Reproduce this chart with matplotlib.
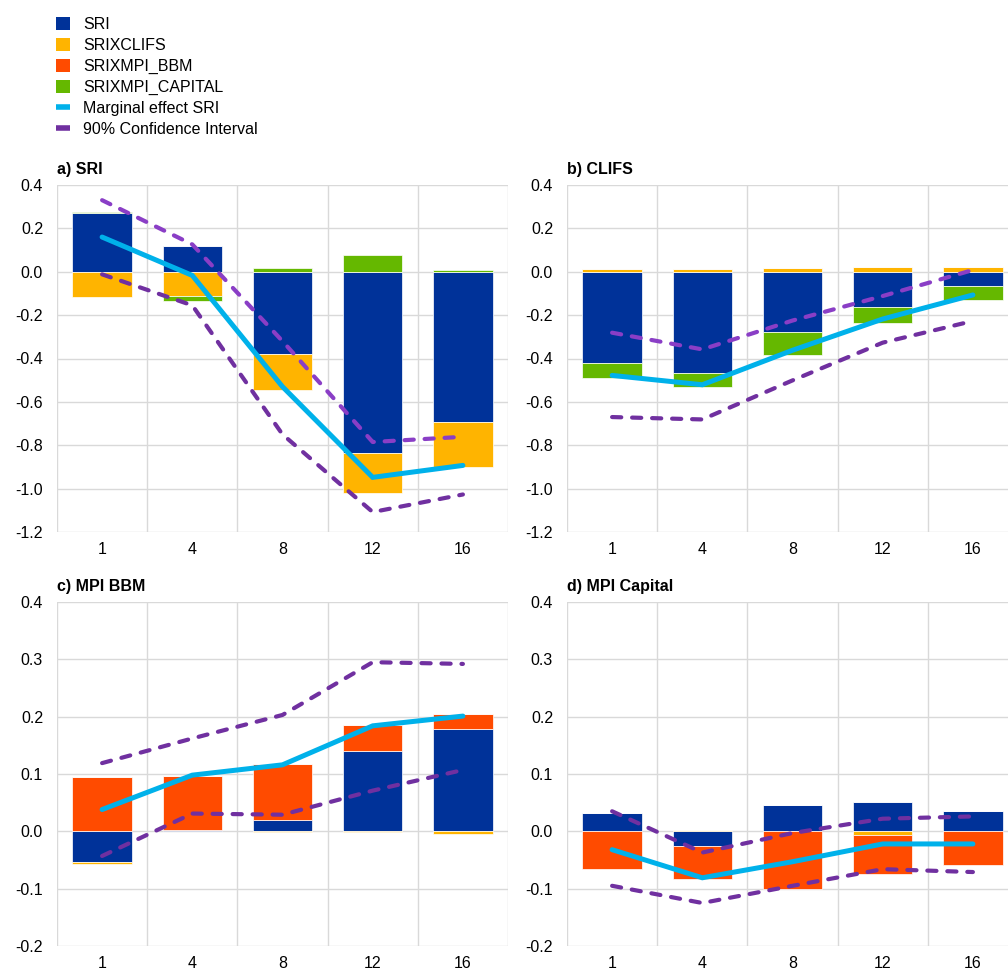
import matplotlib
matplotlib.use("Agg")
import matplotlib.pyplot as plt
import numpy as np
from matplotlib.patches import Patch
from matplotlib.lines import Line2D
from matplotlib.ticker import FixedLocator, FuncFormatter

plt.rcParams["font.family"] = ["Liberation Sans", "DejaVu Sans"]

horizons = ["1", "4", "8", "12", "16"]
series_names = ["SRI", "SRIXCLIFS", "SRIXMPI_BBM", "SRIXMPI_CAPITAL"]

# a) SRI
a_sri = [0.272, 0.118, -0.381, -0.836, -0.693]
a_clifs = [-0.115, -0.112, -0.162, -0.183, -0.206]
a_bbm = [0.0, 0.0, 0.0, 0.0, 0.0]
a_capital = [0.004, -0.023, 0.017, 0.077, 0.008]
a_marginal = [0.160, -0.017, -0.530, -0.948, -0.893]
a_upper = [0.330, 0.126, -0.320, -0.785, -0.761]
a_lower = [-0.012, -0.155, -0.750, -1.108, -1.027]

# b) CLIFS
b_sri = [-0.420, -0.467, -0.277, -0.161, -0.065]
b_clifs = [0.014, 0.012, 0.018, 0.020, 0.023]
b_bbm = [0.0, 0.0, 0.0, 0.0, 0.0]
b_capital = [-0.070, -0.065, -0.109, -0.074, -0.064]
b_marginal = [-0.478, -0.521, -0.362, -0.218, -0.107]
b_upper = [-0.281, -0.358, -0.225, -0.112, 0.008]
b_lower = [-0.670, -0.681, -0.501, -0.327, -0.227]

# c) MPI BBM
c_sri = [-0.053, 0.002, 0.019, 0.140, 0.179]
c_clifs = [-0.004, 0.0, -0.002, -0.002, -0.004]
c_bbm = [0.094, 0.095, 0.099, 0.046, 0.025]
c_capital = [0.0, 0.0, 0.0, 0.0, 0.0]
c_marginal = [0.038, 0.098, 0.116, 0.184, 0.201]
c_upper = [0.119, 0.162, 0.203, 0.295, 0.292]
c_lower = [-0.043, 0.031, 0.029, 0.071, 0.107]

# d) MPI Capital
d_sri = [0.032, -0.025, 0.046, 0.051, 0.036]
d_clifs = [0.0, 0.002, 0.0, -0.007, 0.0]
d_bbm = [-0.065, -0.059, -0.101, -0.067, -0.059]
d_capital = [0.0, 0.0, 0.0, 0.0, 0.0]
d_marginal = [-0.032, -0.081, -0.053, -0.022, -0.022]
d_upper = [0.035, -0.037, -0.003, 0.022, 0.026]
d_lower = [-0.095, -0.125, -0.095, -0.066, -0.071]

titles = ["a) SRI", "b) CLIFS", "c) MPI BBM", "d) MPI Capital"]

bar_colors = ["#003299", "#FFB400", "#FF4B00", "#65B800"]
line_color = "#00B1EA"
ci_color = "#7030A0"
ci_upper_colors = ["#8A3EC6", "#8A3EC6", "#7030A0", "#7030A0"]

FS = 11.5
W, H = 1008, 969
fig = plt.figure(figsize=(W / 100, H / 100), dpi=100)

# axes rectangles in pixels: left, top, right, bottom
rects = [
    (57, 185, 508, 532),
    (567, 185, 1018, 532),
    (57, 602, 508, 946),
    (567, 602, 1018, 946),
]
ylims = [(-1.2, 0.4), (-1.2, 0.4), (-0.2, 0.4), (-0.2, 0.4)]
ysteps = [0.2, 0.2, 0.1, 0.1]

panels = [
    (a_sri, a_clifs, a_bbm, a_capital, a_marginal, a_upper, a_lower),
    (b_sri, b_clifs, b_bbm, b_capital, b_marginal, b_upper, b_lower),
    (c_sri, c_clifs, c_bbm, c_capital, c_marginal, c_upper, c_lower),
    (d_sri, d_clifs, d_bbm, d_capital, d_marginal, d_upper, d_lower),
]

x = np.arange(len(horizons))
grid_color = "#D9D9D9"


def fmt(v, pos):
    if abs(v) < 1e-9:
        return "0.0"
    return f"{v:.1f}"


for i, (data, rect, ylim, ystep, title) in enumerate(zip(panels, rects, ylims, ysteps, titles)):
    l, t, r, b = rect
    ax = fig.add_axes([l / W, (H - b) / H, (r - l) / W, (b - t) / H])
    sri, clifs, bbm, capital, marginal, upper, lower = data

    pos_base = np.zeros(len(x))
    neg_base = np.zeros(len(x))
    for vals, col in zip([sri, clifs, bbm, capital], bar_colors):
        v = np.asarray(vals, dtype=float)
        base = np.where(v >= 0, pos_base, neg_base)
        ax.bar(x, v, 0.66, bottom=base, color=col, edgecolor="white",
               linewidth=0.5, zorder=2)
        pos_base = pos_base + np.where(v > 0, v, 0)
        neg_base = neg_base + np.where(v < 0, v, 0)

    ax.plot(x, lower, color=ci_color, lw=3.0, dashes=(2.2, 2.6),
            dash_capstyle="round", solid_capstyle="round", zorder=3)
    ax.plot(x, upper, color=ci_upper_colors[i], lw=3.0, dashes=(2.2, 2.6),
            dash_capstyle="round", solid_capstyle="round", zorder=3)
    ax.plot(x, marginal, color=line_color, lw=3.6, solid_capstyle="round",
            solid_joinstyle="miter", zorder=4)

    ax.set_xlim(-0.5, len(x) - 0.5)
    ax.set_ylim(*ylim)
    ax.set_xticks(x)
    ax.set_xticklabels(horizons)
    ax.xaxis.set_minor_locator(FixedLocator(np.arange(-0.5, len(x), 1.0)))
    yt = np.round(np.arange(ylim[0], ylim[1] + ystep / 2, ystep), 2)
    ax.set_yticks(yt)
    ax.yaxis.set_major_formatter(FuncFormatter(fmt))
    ax.grid(False)
    ax.grid(True, axis="x", which="minor", color=grid_color, lw=1.0, zorder=0)
    ax.grid(True, axis="y", which="major", color=grid_color, lw=1.0, zorder=0)
    ax.set_axisbelow(True)
    for s in ax.spines.values():
        s.set_visible(False)
    ax.tick_params(axis="both", which="both", length=0, labelsize=FS, colors="#000000")
    ax.tick_params(axis="y", pad=10)
    ax.tick_params(axis="x", pad=7)
    ax.set_title(title, loc="left", fontsize=FS, fontweight="bold", pad=8)

handles = [Patch(facecolor=c, edgecolor="none") for c in bar_colors]
handles.append(Line2D([0], [0], color=line_color, lw=4, solid_capstyle="butt"))
handles.append(Line2D([0], [0], color=ci_color, lw=4, solid_capstyle="butt"))
labels = series_names + ["Marginal effect SRI", "90% Confidence Interval"]
fig.legend(handles, labels, loc="upper left", bbox_to_anchor=(53 / W, 1 - 14 / H),
           frameon=False, fontsize=FS, handlelength=0.875, handleheight=0.875,
           handletextpad=0.8, labelspacing=0.37, borderpad=0.2, borderaxespad=0)

fig.savefig("out.png", dpi=100)
